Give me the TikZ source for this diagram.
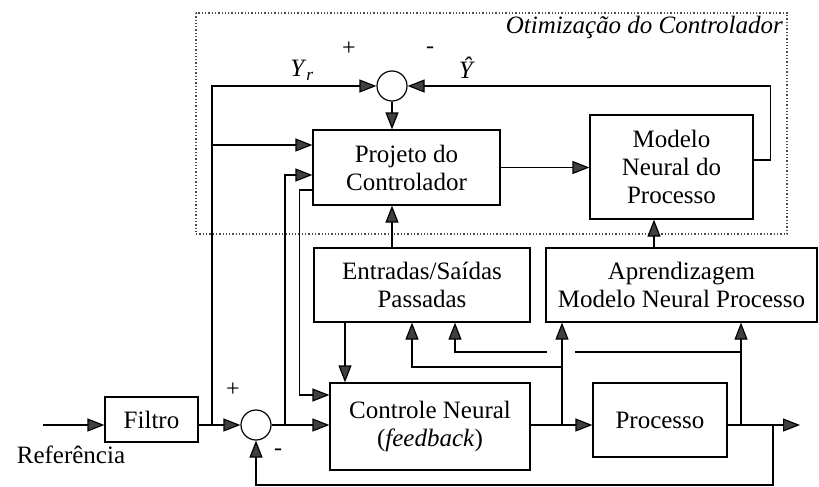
\documentclass[tikz,border=0pt]{standalone}
\usepackage{fontspec}
\setmainfont{Liberation Serif}
\usetikzlibrary{arrows.meta,calc}

\begin{document}
\begin{tikzpicture}[x=1pt,y=-1pt,
    blk/.style={draw, line width=1.2pt, inner sep=0pt, align=center,
        font=\fontsize{25}{28}\selectfont},
    sum/.style={draw, circle, line width=1.2pt, minimum size=30pt, inner sep=0pt},
    sig/.style={line width=1.2pt, -{Triangle[length=17pt,width=13pt,fill=black!75]}},
    wire/.style={line width=1.2pt},
    lbl/.style={font=\fontsize{25}{28}\selectfont, inner sep=0pt},
    sgn/.style={font=\fontsize{24}{24}\selectfont, inner sep=0pt}]
    \useasboundingbox (0,0) rectangle (819,487);

    % Optimisation frame
    \draw[black!70, dotted, line width=1.3pt] (196,13) rectangle (787,234);
    \node[lbl, anchor=east] (titulo) at (783,27) {\textit{Otimização do Controlador}};

    % Blocks
    \node[blk, minimum width=187pt, minimum height=75pt] (proj) at (406.5,167.5) {Projeto do\\Controlador};
    \node[blk, minimum width=163pt, minimum height=104pt] (mod) at (671.5,167) {Modelo\\Neural do\\Processo};
    \node[blk, minimum width=216pt, minimum height=74pt] (ent) at (422,285) {Entradas/Saídas\\Passadas};
    \node[blk, minimum width=271pt, minimum height=74pt] (apr) at (681.5,285) {Aprendizagem\\Modelo Neural Processo};
    \node[blk, minimum width=200pt, minimum height=87pt] (ctrl) at (430,426.5) {Controle Neural\\(\textit{feedback})};
    \node[blk, minimum width=134pt, minimum height=74pt] (proc) at (660,420) {Processo};
    \node[blk, minimum width=93pt, minimum height=45pt] (filt) at (151.5,419.5) {Filtro};

    % Summing junctions
    \node[sum] (s1) at (392,86) {};
    \node[sum] (s2) at (256,425) {};

    % Labels
    \node[sgn] (p1) at (349,49) {+};
    \node[sgn] (m1) at (430,50) {-};
    \node[lbl] (yr) at (302,70) {\textit{Y}\textsubscript{\textit{r}}};
    \node[lbl] (yh) at (467,68) {\textit{Ŷ}};
    \node[sgn] (p2) at (233,390) {+};
    \node[sgn] (m2) at (278,452) {-};
    \node[lbl] (ref) at (71,455) {Referência};

    % Points on the lines
    \coordinate (in) at (43,425);
    \coordinate (b1) at (212,425);
    \coordinate (b2) at (285,425);
    \coordinate (b4) at (562,425);
    \coordinate (b5) at (741,425);
    \coordinate (b6) at (773,425);
    \coordinate (out) at (800,425);
    \coordinate (k1) at (562,367);
    \coordinate (k2) at (741,352);
    \coordinate (g1) at (575,352);
    \coordinate (g2) at (547,352);
    \coordinate (pjA) at ([yshift=22.5pt]proj.west);
    \coordinate (pjB) at ([yshift=-7.5pt]proj.west);
    \coordinate (pjC) at ([yshift=-22.5pt]proj.west);
    \coordinate (ctA) at ([yshift=31.5pt]ctrl.west);
    \coordinate (mA) at ([yshift=7pt]mod.east);
    \coordinate (apA) at ([xshift=-27.5pt]apr.north);
    \coordinate (enA) at ([xshift=-77pt]ent.south);
    \coordinate (enB) at ([xshift=-10pt]ent.south);
    \coordinate (enC) at ([xshift=33pt]ent.south);

    % Main loop
    \draw[sig] (in) -- (filt.west |- in);
    \draw[sig] (filt.east |- s2) -- (s2);
    \draw[sig] (s2) -- (s2 -| ctrl.west);
    \draw[sig] (ctrl.east |- s2) -- (proc.west |- s2);
    \draw[sig] (proc.east |- s2) -- (out);
    \draw[sig] (b6) -- ++(0,60) -| (s2);

    % Controller design
    \draw[sig] (b1) |- (s1);
    \draw[sig] (b1 |- pjA) -- (pjA);
    \draw[sig] (b2) |- (pjB);
    \draw[sig] (pjC) -- ++(-13,0) |- (ctA);
    \draw[sig] (s1) -- (s1 |- proj.north);
    \draw[sig] (proj.east) -- (mod.west |- proj.east);
    \draw[sig] (mA) -- ++(17,0) |- (s1);
    \draw[sig] (s1 |- ent.north) -- (s1 |- proj.south);

    % Past data and learning
    \draw[sig] (apA) -- (apA |- mod.south);
    \draw[sig] (enA) -- (enA |- ctrl.north);
    \draw[sig] (b4) -- (b4 |- apr.south);
    \draw[sig] (k1) -| (enB);
    \draw[sig] (b5) -- (b5 |- apr.south);
    \draw[wire] (k2) -- (g1);
    \draw[sig] (g2) -| (enC);
\end{tikzpicture}
\end{document}
